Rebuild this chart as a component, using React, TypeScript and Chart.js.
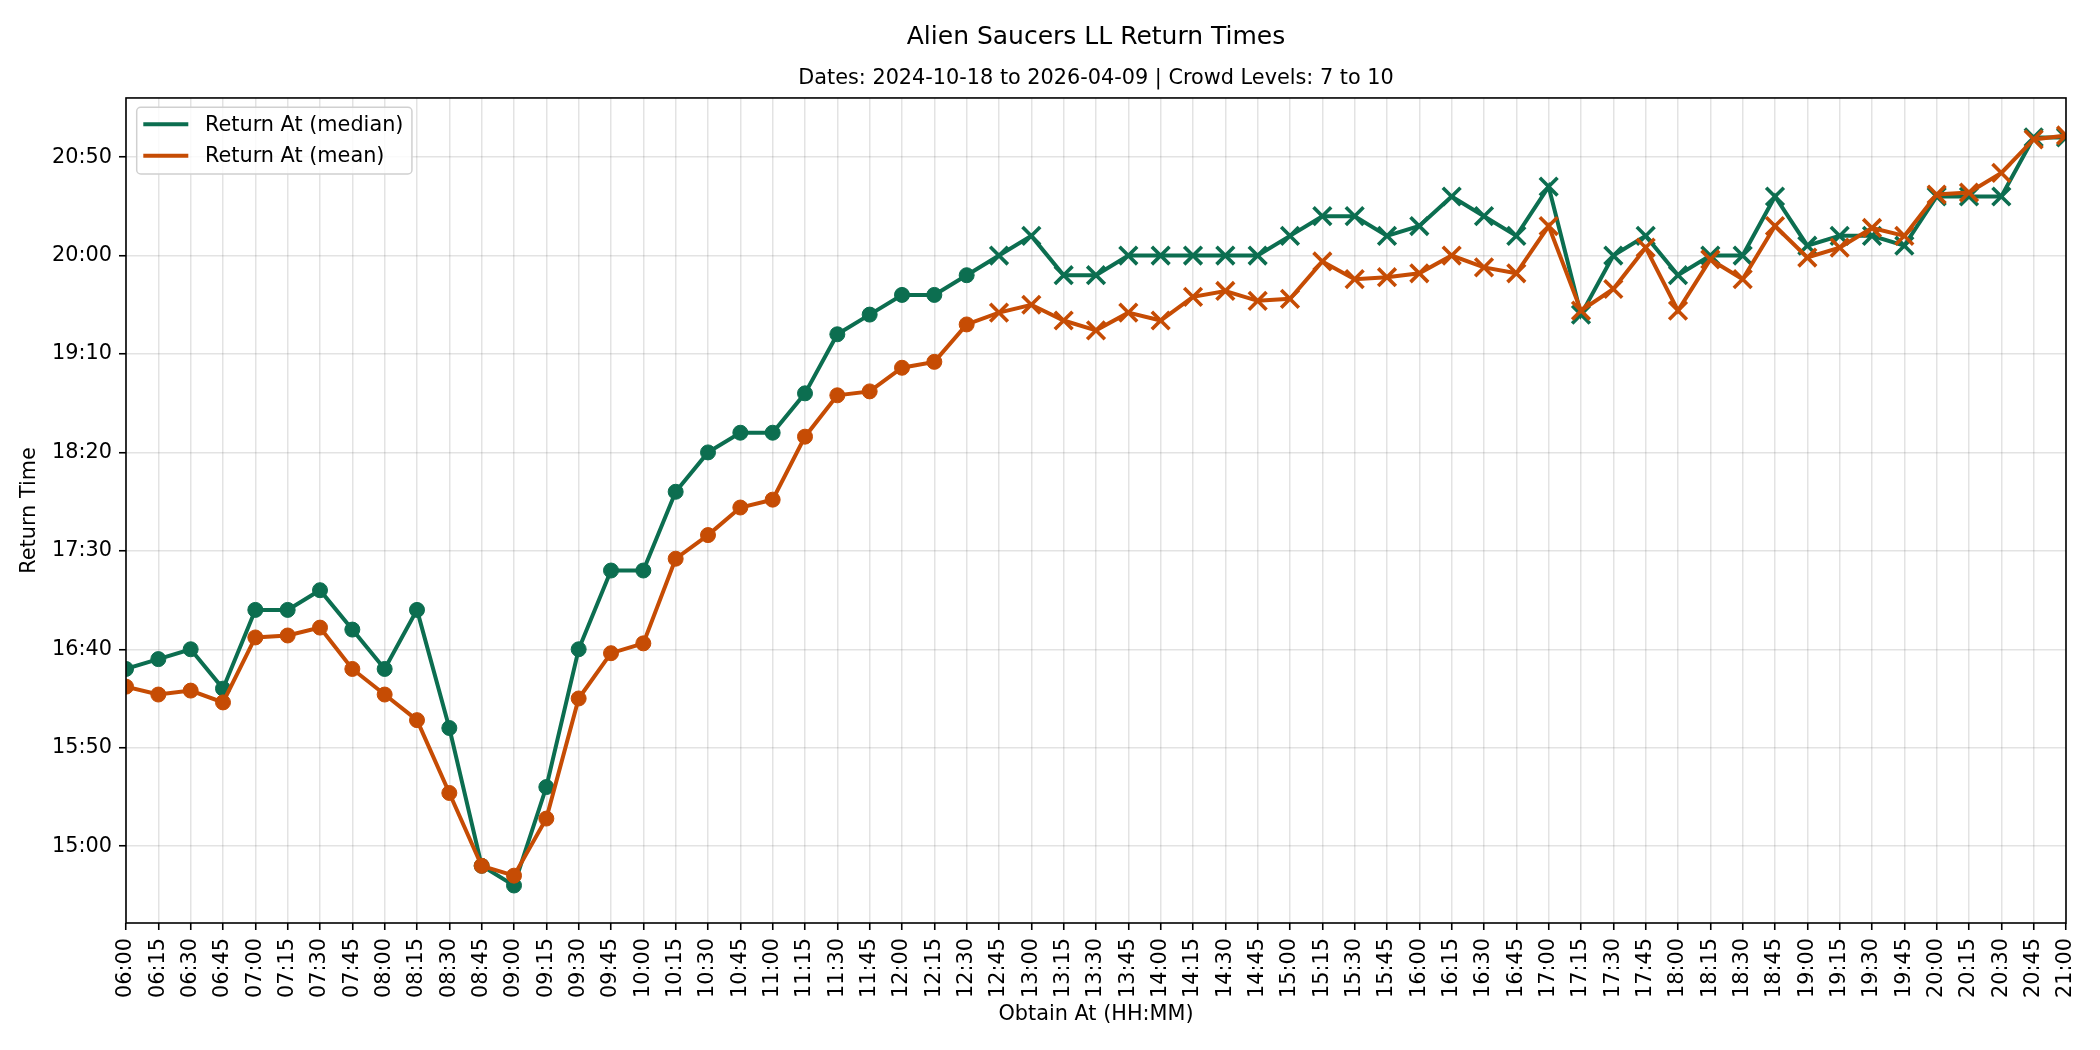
import React, { useEffect, useRef } from 'react';
import { Chart, registerables } from 'chart.js';

Chart.register(...registerables);

const FONT = '"DejaVu Sans", sans-serif';
const GREEN = '#0c6e50';
const ORANGE = '#c64c04';

const chartTitle = 'Alien Saucers LL Return Times';
const chartSubtitle = 'Dates: 2024-10-18 to 2026-04-09 | Crowd Levels: 7 to 10';

const obtainAt = [
  '06:00', '06:15', '06:30', '06:45', '07:00', '07:15', '07:30', '07:45',
  '08:00', '08:15', '08:30', '08:45', '09:00', '09:15', '09:30', '09:45',
  '10:00', '10:15', '10:30', '10:45', '11:00', '11:15', '11:30', '11:45',
  '12:00', '12:15', '12:30', '12:45', '13:00', '13:15', '13:30', '13:45',
  '14:00', '14:15', '14:30', '14:45', '15:00', '15:15', '15:30', '15:45',
  '16:00', '16:15', '16:30', '16:45', '17:00', '17:15', '17:30', '17:45',
  '18:00', '18:15', '18:30', '18:45', '19:00', '19:15', '19:30', '19:45',
  '20:00', '20:15', '20:30', '20:45', '21:00',
];

// return times, minutes after midnight
const medianReturn = [
  990, 995, 1000, 980, 1020, 1020, 1030, 1010,
  990, 1020, 960, 890, 880, 930, 1000, 1040,
  1040, 1080, 1100, 1110, 1110, 1130, 1160, 1170,
  1180, 1180, 1190, 1200, 1210, 1190, 1190, 1200,
  1200, 1200, 1200, 1200, 1210, 1220, 1220, 1210,
  1215, 1230, 1220, 1210, 1235, 1170, 1200, 1210,
  1190, 1200, 1200, 1230, 1205, 1210, 1210, 1205,
  1230, 1230, 1230, 1260, 1260,
];

const meanReturn = [
  981, 977, 979, 973, 1006, 1007, 1011, 990,
  977, 964, 927, 890, 885, 914, 975, 998,
  1003, 1046, 1058, 1072, 1076, 1108, 1129, 1131,
  1143, 1146, 1165, 1171, 1175, 1167, 1162, 1171,
  1167, 1179, 1182, 1177, 1178, 1197, 1188, 1189,
  1191, 1200, 1194, 1191, 1215, 1172, 1183, 1204,
  1172, 1198, 1188, 1215, 1199, 1204, 1214, 1210,
  1231, 1232, 1242, 1259, 1261,
];

const yTicks = [900, 950, 1000, 1050, 1100, 1150, 1200, 1250];

// slots up to this one are drawn with round markers, later ones with x
const lastRoundSlot = '12:30';

const hhmm = (m: number) =>
  `${String(Math.floor(m / 60)).padStart(2, '0')}:${String(Math.round(m % 60)).padStart(2, '0')}`;

const isRound = (i: number) => obtainAt[i] <= lastRoundSlot;

const framePlugin = {
  id: 'frameAndLegend',
  afterDraw(chart: any) {
    const { ctx, chartArea } = chart;
    ctx.save();
    // spines all round
    ctx.strokeStyle = '#000';
    ctx.lineWidth = 1.6;
    ctx.strokeRect(chartArea.left, chartArea.top, chartArea.right - chartArea.left, chartArea.bottom - chartArea.top);

    // legend in upper left corner
    const x0 = chartArea.left + 10.7;
    const y0 = chartArea.top + 9.3;
    ctx.font = `20.8px ${FONT}`;
    const items = chart.data.datasets;
    const maxW = Math.max(...items.map((d: any) => ctx.measureText(d.label).width));
    const w = 68.3 + maxW + 8.5;
    const h = 66.7;
    ctx.beginPath();
    if (ctx.roundRect) ctx.roundRect(x0, y0, w, h, 4);
    else ctx.rect(x0, y0, w, h);
    ctx.fillStyle = 'rgba(255,255,255,0.8)';
    ctx.fill();
    ctx.strokeStyle = '#d0d0d0';
    ctx.lineWidth = 1.5;
    ctx.stroke();
    items.forEach((d: any, i: number) => {
      const y = y0 + 17 + i * 31.4;
      ctx.beginPath();
      ctx.moveTo(x0 + 6.6, y);
      ctx.lineTo(x0 + 51.6, y);
      ctx.strokeStyle = d.borderColor;
      ctx.lineWidth = 4;
      ctx.stroke();
      ctx.fillStyle = '#000';
      ctx.textBaseline = 'middle';
      ctx.textAlign = 'left';
      ctx.fillText(d.label, x0 + 68.3, y + 1);
    });
    ctx.restore();
  },
};

const App: React.FC = () => {
  const canvasRef = useRef<HTMLCanvasElement>(null);

  useEffect(() => {
    if (!canvasRef.current) return;
    const all = [...medianReturn, ...meanReturn];
    const lo = Math.min(...all);
    const hi = Math.max(...all);
    const margin = (hi - lo) * 0.05;

    const styleFor = (color: string) => ({
      borderColor: color,
      backgroundColor: color,
      borderWidth: 4,
      pointStyle: obtainAt.map((_, i) => (isRound(i) ? 'circle' : 'crossRot')),
      pointRadius: obtainAt.map((_, i) => (isRound(i) ? 7.5 : 12.5)),
      pointBorderWidth: obtainAt.map((_, i) => (isRound(i) ? 1 : 3.6)),
      pointBackgroundColor: color,
      pointBorderColor: color,
      tension: 0,
      clip: 0,
    });

    const chart = new Chart(canvasRef.current, {
      type: 'line',
      data: {
        labels: obtainAt,
        datasets: [
          { label: 'Return At (median)', data: medianReturn, order: 2, ...styleFor(GREEN) },
          { label: 'Return At (mean)', data: meanReturn, order: 1, ...styleFor(ORANGE) },
        ],
      },
      options: {
        responsive: false,
        animation: false,
        devicePixelRatio: 1,
        events: [],
        layout: { padding: { left: 0, right: 34, top: 0, bottom: 0 } },
        plugins: {
          legend: { display: false },
          tooltip: { enabled: false },
          title: {
            display: true,
            fullSize: false,
            text: chartTitle,
            color: '#000',
            font: { family: FONT, size: 25, weight: 'normal' },
            padding: { top: 22.5, bottom: 0 },
          },
          subtitle: {
            display: true,
            fullSize: false,
            text: chartSubtitle,
            color: '#000',
            font: { family: FONT, size: 20.8, weight: 'normal' },
            padding: { top: 13.5, bottom: 7 },
          },
        },
        scales: {
          x: {
            type: 'category',
            offset: false,
            afterFit: (scale: any) => {
              scale.height = 127;
            },
            grid: {
              color: 'rgba(0,0,0,0.11)',
              lineWidth: 1.5,
              offset: false,
              tickColor: '#000',
              tickWidth: 1.6,
              tickLength: 7,
            },
            border: { display: false },
            ticks: {
              autoSkip: false,
              minRotation: 90,
              maxRotation: 90,
              padding: 8,
              color: '#000',
              font: { family: FONT, size: 20.8 },
            },
            title: {
              display: true,
              text: 'Obtain At (HH:MM)',
              color: '#000',
              font: { family: FONT, size: 20.8 },
              padding: { top: 0, bottom: 22.5 },
            },
          },
          y: {
            type: 'linear',
            min: lo - margin,
            max: hi + margin,
            afterFit: (scale: any) => {
              scale.width = 126;
            },
            afterBuildTicks: (scale: any) => {
              scale.ticks = yTicks.map((v) => ({ value: v }));
            },
            grid: {
              color: 'rgba(0,0,0,0.11)',
              lineWidth: 1.5,
              tickColor: '#000',
              tickWidth: 1.6,
              tickLength: 7,
            },
            border: { display: false },
            ticks: {
              padding: 7,
              color: '#000',
              font: { family: FONT, size: 20.8 },
              callback: (v: any) => hhmm(Number(v)),
            },
            title: {
              display: true,
              text: 'Return Time',
              color: '#000',
              font: { family: FONT, size: 20.8 },
              padding: { top: 17, bottom: 0 },
            },
          },
        },
      },
      plugins: [framePlugin],
    });

    return () => {
      chart.destroy();
    };
  }, []);

  return (
    <div style={{ position: 'absolute', left: 0, top: 0, width: 2100, height: 1050, background: '#fff' }}>
      <canvas ref={canvasRef} width={2100} height={1050} style={{ display: 'block', width: 2100, height: 1050 }} />
    </div>
  );
};

export default App;
